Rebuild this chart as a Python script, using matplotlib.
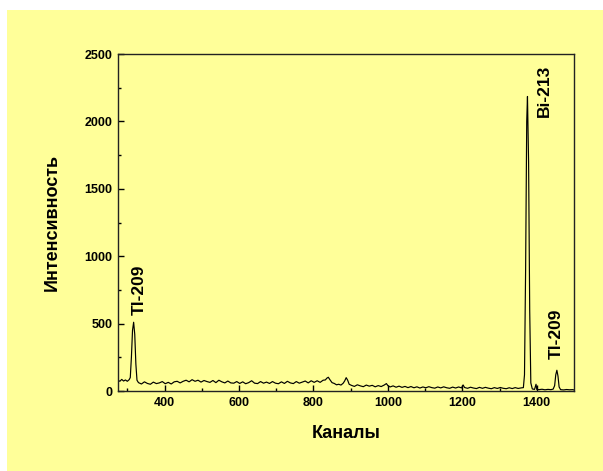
import matplotlib
matplotlib.use("Agg")
import matplotlib.pyplot as plt
from matplotlib.patches import Rectangle

plt.rcParams['font.family'] = ['Liberation Sans', 'DejaVu Sans']
plt.rcParams['font.weight'] = 'bold'

channels = [275, 280, 285, 290, 295, 300, 305, 308, 311, 314, 317, 320, 323, 326,
            330, 338, 346, 354, 362, 370, 378, 386, 394, 402, 410, 418, 426, 434, 442,
            450, 458, 466, 474, 482, 490, 498, 506, 514, 522, 530, 538, 546, 554, 562,
            570, 578, 586, 594, 602, 610, 618, 626, 634, 642, 650, 658, 666, 674, 682,
            690, 698, 706, 714, 722, 730, 738, 746, 754, 762, 770, 778, 786, 794, 802,
            810, 818, 826, 832, 836, 840, 844, 850, 856, 862, 868, 874, 880, 884, 888,
            892, 896, 902, 910, 918, 926, 934, 942, 950, 958, 966, 974, 982, 990, 996,
            1000, 1006, 1014, 1022, 1030, 1038, 1046, 1054, 1062, 1070, 1078, 1086, 1094,
            1102, 1110, 1118, 1126, 1134, 1142, 1150, 1158, 1166, 1174, 1182, 1190, 1198,
            1202, 1206, 1214, 1222, 1230, 1238, 1246, 1254, 1262, 1270, 1278, 1286, 1294,
            1302, 1310, 1318, 1326, 1334, 1342, 1350, 1358, 1364, 1367, 1370, 1373, 1375,
            1378, 1381, 1384, 1388, 1394, 1398, 1400, 1406, 1414, 1422, 1430, 1438, 1444,
            1448, 1451, 1454, 1457, 1460, 1464, 1472, 1480, 1488, 1496, 1500]
counts = [80, 72, 86, 74, 82, 72, 84, 100, 250, 450, 510, 420, 200, 80,
          62, 52, 68, 56, 50, 66, 55, 60, 70, 54, 64, 52, 68, 72, 60,
          72, 80, 68, 84, 72, 80, 66, 78, 70, 64, 78, 62, 80, 68, 60,
          74, 60, 58, 70, 56, 68, 54, 62, 76, 58, 55, 70, 58, 66, 56,
          70, 58, 54, 68, 56, 72, 60, 55, 70, 58, 66, 74, 60, 76, 64,
          76, 64, 80, 82, 95, 102, 85, 62, 56, 46, 50, 44, 58, 75, 99,
          80, 50, 42, 34, 46, 38, 32, 44, 36, 42, 31, 40, 33, 44, 55,
          40, 30, 38, 28, 36, 27, 34, 25, 33, 24, 31, 22, 30,
          24, 32, 25, 21, 30, 23, 31, 24, 20, 29, 22, 30, 23,
          45, 26, 20, 28, 22, 18, 27, 20, 27, 21, 17, 25, 19,
          26, 20, 17, 24, 18, 25, 19, 23, 25, 120, 900, 2000, 2185,
          1700, 600, 60, 15, 12, 50, 12, 10, 13, 9, 12, 10, 14,
          40, 120, 154, 110, 30, 10, 8, 11, 9, 10, 8]

peak_labels = ["Tl-209", "Bi-213", "Tl-209"]
peak_label_x = [333, 1420, 1453]
peak_label_y = [565, 2030, 240]

x_ticks = [400, 600, 800, 1000, 1200, 1400]
y_ticks = [0, 500, 1000, 1500, 2000, 2500]

yellow = '#FFFF99'

fig = plt.figure(figsize=(6.03, 4.71), dpi=100, facecolor='white')
bg = Rectangle((7 / 603, 0), 1 - 7 / 603, (471 - 10) / 471,
               transform=fig.transFigure, facecolor=yellow,
               edgecolor='none', zorder=-10)
fig.add_artist(bg)
ax = fig.add_axes([118 / 603, 1 - 391 / 471, (574 - 118) / 603, (391 - 54) / 471])
ax.set_zorder(1)
ax.set_facecolor(yellow)

ax.plot(channels, counts, color='black', linewidth=0.85)

for t, xx, yy in zip(peak_labels, peak_label_x, peak_label_y):
    ax.text(xx, yy, t, rotation=90, ha='center', va='bottom', fontsize=12.5,
            fontweight='bold', color='black')

ax.set_xlim(275, 1500)
ax.set_ylim(0, 2500)
ax.set_xticks(x_ticks)
ax.set_yticks(y_ticks)
ax.set_xticks(list(range(300, 1500, 100)), minor=True)
ax.set_yticks(list(range(250, 2500, 250)), minor=True)
ax.tick_params(which='major', direction='in', length=4, width=1, labelsize=9,
               pad=4, colors='black')
ax.tick_params(which='minor', direction='in', length=2.5, width=1)
for lab in ax.get_xticklabels() + ax.get_yticklabels():
    lab.set_fontweight('bold')
for s in ax.spines.values():
    s.set_linewidth(1.0)
    s.set_color('#222222')

ax.set_xlabel('Каналы', fontsize=13, fontweight='bold', labelpad=12)
ax.set_ylabel('Интенсивность', fontsize=13, fontweight='bold', labelpad=17)

fig.savefig('out.png', dpi=100, facecolor='white')
